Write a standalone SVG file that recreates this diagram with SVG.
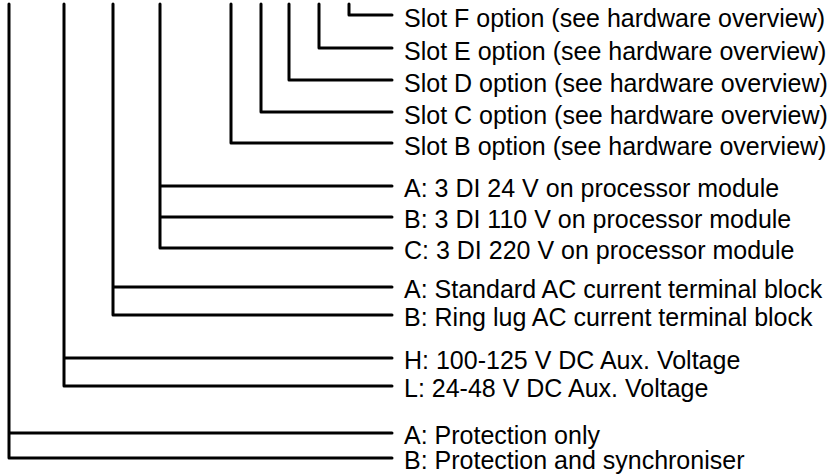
<svg xmlns="http://www.w3.org/2000/svg" width="834" height="475" viewBox="0 0 834 475">
<style>
.ln{fill:none;stroke:#000;stroke-width:3;stroke-linecap:round;stroke-linejoin:round}
.t{font-family:"Liberation Sans",Arial,sans-serif;font-size:25px;fill:#000}
</style>
<rect width="834" height="475" fill="#fff"/>
<g id="connectors">
<path class="ln" d="M349,4 V15 H392"/>
<path class="ln" d="M319,4 V48 H392"/>
<path class="ln" d="M289,4 V80 H392"/>
<path class="ln" d="M261,4 V112 H392"/>
<path class="ln" d="M231,4 V143 H392"/>
<path class="ln" d="M160,4 V248 H392 M160,186 H392 M160,217 H392"/>
<path class="ln" d="M113,4 V315 H392 M113,287 H392"/>
<path class="ln" d="M64,4 V386 H392 M64,358 H392"/>
<path class="ln" d="M9,4 V458 H392 M9,433 H392"/>
</g>
<g id="slot-f"><text class="t" x="404" y="26.5">Slot F option (see hardware overview)</text></g>
<g id="slot-e"><text class="t" x="404" y="59.5">Slot E option (see hardware overview)</text></g>
<g id="slot-d"><text class="t" x="404" y="91.5">Slot D option (see hardware overview)</text></g>
<g id="slot-c"><text class="t" x="404" y="123.5">Slot C option (see hardware overview)</text></g>
<g id="slot-b"><text class="t" x="404" y="154.5">Slot B option (see hardware overview)</text></g>
<g id="di-a"><text class="t" x="404" y="197">A: 3 DI 24 V on processor module</text></g>
<g id="di-b"><text class="t" x="404" y="228">B: 3 DI 110 V on processor module</text></g>
<g id="di-c"><text class="t" x="404" y="259">C: 3 DI 220 V on processor module</text></g>
<g id="ct-a"><text class="t" x="404" y="298">A: Standard AC current terminal block</text></g>
<g id="ct-b"><text class="t" x="404" y="326">B: Ring lug AC current terminal block</text></g>
<g id="aux-h"><text class="t" x="404" y="369">H: 100-125 V DC Aux. Voltage</text></g>
<g id="aux-l"><text class="t" x="404" y="397">L: 24-48 V DC Aux. Voltage</text></g>
<g id="fn-a"><text class="t" x="404" y="444">A: Protection only</text></g>
<g id="fn-b"><text class="t" x="404" y="469">B: Protection and synchroniser</text></g>
</svg>
